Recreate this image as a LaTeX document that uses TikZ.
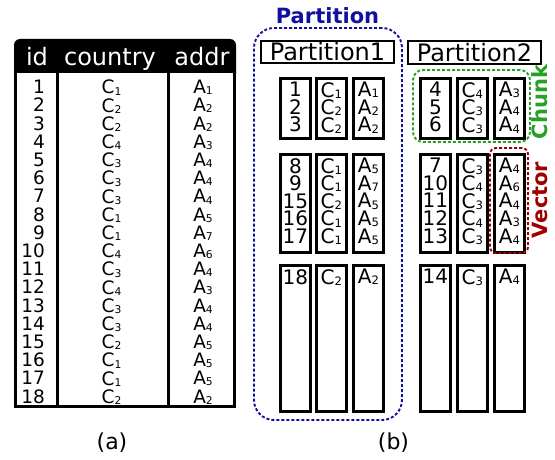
\documentclass[tikz,border=0pt]{standalone}
\usepackage{fontspec}
\setmainfont{DejaVu Sans}
\definecolor{pblue}{RGB}{16,16,160}
\definecolor{cgreen}{RGB}{40,160,40}
\definecolor{vred}{RGB}{160,0,0}
\newcommand{\tightlines}{\lineskiplimit=-20pt\relax\lineskip=0pt\relax}
\newcommand{\lo}[1]{\raisebox{-0.06em}{\scalebox{0.58}{#1}}}
\newcommand{\cv}[1]{C\lo{#1}}
\newcommand{\av}[1]{A\lo{#1}}
\begin{document}
\begin{tikzpicture}[x=1pt,y=-1pt,
  tab/.style={inner sep=0pt, anchor=north, align=center, font=\fontsize{18.5}{18.2}\selectfont\tightlines},
  hdr/.style={inner sep=0pt, anchor=base, text=white, font=\fontsize{24}{24}\selectfont},
  colbox/.style={draw, line width=2.8pt, inner sep=0pt, anchor=north west, minimum width=30pt},
  cell/.style={inner sep=0pt, anchor=north, align=center, font=\fontsize{20}{17.6}\selectfont\tightlines},
  plabel/.style={draw, line width=2.8pt, inner sep=0pt, minimum width=133pt, minimum height=22pt, font=\fontsize{24}{24}\selectfont},
  grp/.style={draw, line width=1.9pt, dash pattern=on 3pt off 2pt, inner sep=0pt},
  side/.style={inner sep=0pt, rotate=90, font=\fontsize{21}{21}\selectfont\bfseries},
  subcap/.style={inner sep=0pt, font=\fontsize{22}{22}\selectfont}
]
\useasboundingbox (0,0) rectangle (555,460);

% ---------- (a) table ----------
\fill[black, rounded corners=6pt] (14,39) rectangle (236,80);
\draw[line width=3pt, fill=white] (15.5,72) rectangle (234.5,406.5);
\draw[line width=3pt] (57,72) -- (57,406.5);
\draw[line width=3pt] (168,72) -- (168,406.5);
\node[hdr] (hid) at (37,66) {id};
\node[hdr] (hcountry) at (110,66) {country};
\node[hdr] (haddr) at (202,66) {addr};
\node[tab, anchor=north east, align=right] (tid) at (45,80) {1\\2\\3\\4\\5\\6\\7\\8\\9\\10\\11\\12\\13\\14\\15\\16\\17\\18};
\node[tab] (tcountry) at (111.5,80) {\cv1\\\cv2\\\cv2\\\cv4\\\cv3\\\cv3\\\cv3\\\cv1\\\cv1\\\cv4\\\cv3\\\cv4\\\cv3\\\cv3\\\cv2\\\cv1\\\cv1\\\cv2};
\node[tab] (taddr) at (203,80) {\av1\\\av2\\\av2\\\av3\\\av4\\\av4\\\av4\\\av5\\\av7\\\av6\\\av4\\\av3\\\av4\\\av4\\\av5\\\av5\\\av5\\\av2};
\node[subcap] (capa) at (112,443) {(a)};

% ---------- (b) partitions ----------
\node[pblue, font=\fontsize{21}{21}\selectfont\bfseries, inner sep=0pt] (ptitle) at (327.5,15.5) {Partition};
\node[grp, pblue, rounded corners=20pt, minimum width=148pt, minimum height=392pt] (pgrp) at (328,224) {};

\node[plabel] (p1) at (327.5,52) {Partition1};
\node[plabel, minimum height=23pt] (p2) at (474.5,52.5) {Partition2};

% Partition1 chunk 1
\node[colbox, minimum height=60pt] (p1c1i) at (279,77) {};
\node[colbox, minimum height=60pt] (p1c1c) at (315,77) {};
\node[colbox, minimum height=60pt] (p1c1a) at (352,77) {};
\node[cell] at ([yshift=-5pt]p1c1i.north) {1\\2\\3};
\node[cell] at ([yshift=-5pt]p1c1c.north) {\cv1\\\cv2\\\cv2};
\node[cell] at ([yshift=-5pt]p1c1a.north) {\av1\\\av2\\\av2};
% Partition1 chunk 2
\node[colbox, minimum height=98pt] (p1c2i) at (279,153) {};
\node[colbox, minimum height=98pt] (p1c2c) at (315,153) {};
\node[colbox, minimum height=98pt] (p1c2a) at (352,153) {};
\node[cell] at ([yshift=-5pt]p1c2i.north) {8\\9\\15\\16\\17};
\node[cell] at ([yshift=-5pt]p1c2c.north) {\cv1\\\cv1\\\cv2\\\cv1\\\cv1};
\node[cell] at ([yshift=-5pt]p1c2a.north) {\av5\\\av7\\\av5\\\av5\\\av5};
% Partition1 chunk 3
\node[colbox, minimum height=146pt] (p1c3i) at (279,264) {};
\node[colbox, minimum height=146pt] (p1c3c) at (315,264) {};
\node[colbox, minimum height=146pt] (p1c3a) at (352,264) {};
\node[cell] at ([yshift=-5pt]p1c3i.north) {18};
\node[cell] at ([yshift=-5pt]p1c3c.north) {\cv2};
\node[cell] at ([yshift=-5pt]p1c3a.north) {\av2};

% Partition2 chunk 1
\node[colbox, minimum height=60pt] (p2c1i) at (419,77) {};
\node[colbox, minimum height=60pt] (p2c1c) at (456,77) {};
\node[colbox, minimum height=60pt] (p2c1a) at (493,77) {};
\node[cell] at ([yshift=-5pt]p2c1i.north) {4\\5\\6};
\node[cell] at ([yshift=-5pt]p2c1c.north) {\cv4\\\cv3\\\cv3};
\node[cell] at ([yshift=-5pt]p2c1a.north) {\av3\\\av4\\\av4};
% Partition2 chunk 2
\node[colbox, minimum height=98pt] (p2c2i) at (419,153) {};
\node[colbox, minimum height=98pt] (p2c2c) at (456,153) {};
\node[colbox, minimum height=98pt] (p2c2a) at (493,153) {};
\node[cell] at ([yshift=-5pt]p2c2i.north) {7\\10\\11\\12\\13};
\node[cell] at ([yshift=-5pt]p2c2c.north) {\cv3\\\cv4\\\cv3\\\cv4\\\cv3};
\node[cell] at ([yshift=-5pt]p2c2a.north) {\av4\\\av6\\\av4\\\av3\\\av4};
% Partition2 chunk 3
\node[colbox, minimum height=146pt] (p2c3i) at (419,264) {};
\node[colbox, minimum height=146pt] (p2c3c) at (456,264) {};
\node[colbox, minimum height=146pt] (p2c3a) at (493,264) {};
\node[cell] at ([yshift=-5pt]p2c3i.north) {14};
\node[cell] at ([yshift=-5pt]p2c3c.north) {\cv3};
\node[cell] at ([yshift=-5pt]p2c3a.north) {\av4};

% Chunk / Vector highlights
\node[grp, cgreen, rounded corners=10pt, minimum width=117pt, minimum height=72pt] (chunkgrp) at (471.5,106) {};
\node[grp, vred, rounded corners=6pt, minimum width=38pt, minimum height=105pt] (vecgrp) at (509,200.5) {};
\node[side, cgreen] (chunklbl) at (540,102) {Chunk};
\node[side, vred] (veclbl) at (540,200) {Vector};

\node[subcap] (capb) at (393.5,443) {(b)};
\end{tikzpicture}
\end{document}
